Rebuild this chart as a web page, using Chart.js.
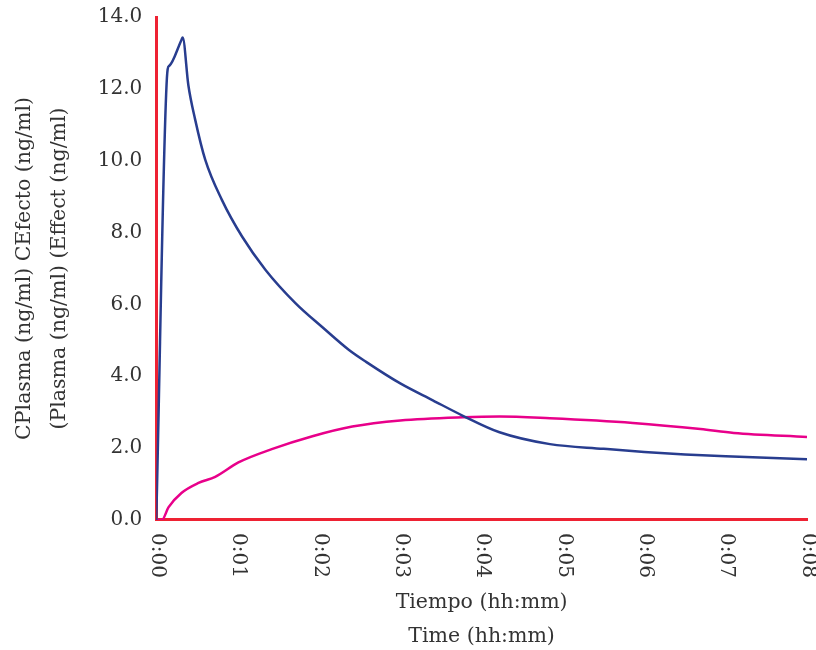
<!DOCTYPE html>
<html>
<head>
<meta charset="utf-8">
<script src="https://cdn.jsdelivr.net/npm/chart.js@4"></script>
<style>
  html, body { margin: 0; padding: 0; background: #fff; }
  #wrap { width: 816px; height: 650px; }
</style>
</head>
<body>
<div id="wrap"><canvas id="chart" width="816" height="650"></canvas></div>
<script>
// tiempo en minutos
const plasmaTimes = [0, 0.14, 0.16, 0.31, 0.325, 0.395, 0.478, 0.602, 0.807, 1.055, 1.344, 1.714, 2.04, 2.37, 2.58, 3.0, 3.4, 3.77, 4.22, 4.84, 5.5, 6.0, 6.5, 7.0, 7.5, 8.0];
const plasmaValues = [0, 12.54, 12.64, 13.36, 13.43, 12.1, 11.15, 10.03, 8.91, 7.89, 6.96, 6.03, 5.37, 4.73, 4.4, 3.8, 3.33, 2.9, 2.44, 2.11, 1.98, 1.89, 1.82, 1.77, 1.73, 1.69];

const effectTimes = [0, 0.07, 0.15, 0.31, 0.52, 0.725, 1.01, 1.42, 1.92, 2.41, 3.0, 3.77, 4.22, 4.84, 5.86, 6.69, 7.1, 8.0];
const effectValues = [0, 0, 0.35, 0.75, 1.03, 1.2, 1.6, 1.97, 2.33, 2.6, 2.77, 2.86, 2.88, 2.83, 2.70, 2.53, 2.42, 2.31];

const xTickLabels = ['0:00', '0:01', '0:02', '0:03', '0:04', '0:05', '0:06', '0:07', '0:08'];
const yTickLabels = ['0.0', '2.0', '4.0', '6.0', '8.0', '10.0', '12.0', '14.0'];

const yTitle = ['CPlasma (ng/ml) CEfecto (ng/ml)', '(Plasma (ng/ml) (Effect (ng/ml)'];
const xTitle = ['Tiempo (hh:mm)', 'Time (hh:mm)'];

const FONT = "'DejaVu Serif', serif";
const TEXT = '#333333';
const AXIS_RED = '#ee2233';

function toPoints(xs, ys) {
    return xs.map((x, i) => ({ x: x, y: ys[i] }));
}

// etiquetas del eje x giradas en sentido horario (como en la referencia)
const clockwiseXLabels = {
    id: 'clockwiseXLabels',
    afterDraw(chart) {
        const xs = chart.scales.x;
        const ctx = chart.ctx;
        ctx.save();
        ctx.font = '20px ' + FONT;
        ctx.fillStyle = TEXT;
        ctx.textAlign = 'left';
        ctx.textBaseline = 'middle';
        xTickLabels.forEach((lbl, i) => {
            const px = xs.getPixelForValue(i);
            ctx.save();
            ctx.translate(px + 1, xs.top + 13);
            ctx.rotate(Math.PI / 2);
            ctx.fillText(lbl, 0, 0);
            ctx.restore();
        });
        ctx.restore();
    }
};

new Chart(document.getElementById('chart'), {
    type: 'line',
    data: {
        datasets: [
            {
                label: 'CPlasma',
                data: toPoints(plasmaTimes, plasmaValues),
                borderColor: '#283d8f',
                borderWidth: 2.5,
                pointRadius: 0,
                cubicInterpolationMode: 'monotone',
                fill: false
            },
            {
                label: 'CEfecto',
                data: toPoints(effectTimes, effectValues),
                borderColor: '#e8008a',
                borderWidth: 2.5,
                pointRadius: 0,
                cubicInterpolationMode: 'monotone',
                fill: false
            }
        ]
    },
    options: {
        responsive: false,
        animation: false,
        layout: { padding: { top: 0, right: 9, left: 7, bottom: -4 } },
        plugins: {
            legend: { display: false },
            tooltip: { enabled: false }
        },
        scales: {
            x: {
                type: 'linear',
                min: 0,
                max: 8,
                grid: { display: false, drawTicks: false },
                border: { display: true, color: AXIS_RED, width: 3 },
                ticks: { display: false, stepSize: 1 },
                title: {
                    display: true,
                    text: xTitle,
                    color: TEXT,
                    font: { family: FONT, size: 20.5, lineHeight: 1.66 },
                    padding: { top: 66, bottom: 0 }
                }
            },
            y: {
                min: 0,
                max: 14,
                grid: { display: false, drawTicks: false },
                border: { display: true, color: AXIS_RED, width: 3 },
                afterFit: (scale) => { scale.paddingTop = 17; },
                ticks: {
                    stepSize: 2,
                    padding: 14,
                    color: TEXT,
                    font: { family: FONT, size: 20 },
                    callback: (v) => yTickLabels[v / 2]
                },
                title: {
                    display: true,
                    text: yTitle,
                    color: TEXT,
                    font: { family: FONT, size: 20.5, lineHeight: 1.7 },
                    padding: { top: 0, bottom: 7 }
                }
            }
        }
    },
    plugins: [clockwiseXLabels]
});
</script>
</body>
</html>
